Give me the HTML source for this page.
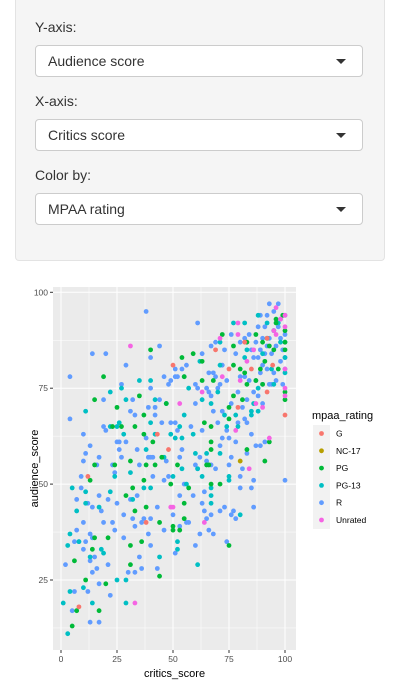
<!DOCTYPE html>
<html><head><meta charset="utf-8">
<style>
body{margin:0;width:400px;height:682px;background:#fff;font-family:"Liberation Sans",Arial,sans-serif;color:#333;position:relative;overflow:hidden}
.panel{position:absolute;left:15px;top:0;width:368px;height:260px;background:#f5f5f5;border:1px solid #e3e3e3;border-top:none;border-radius:0 0 4px 4px}
.lbl{position:absolute;left:35px;font-size:14px;color:#333}
.sel{position:absolute;left:35px;width:328px;height:32px;background:#fff;border:1px solid #ccc;border-radius:4px;box-sizing:border-box;font-size:14px;line-height:30px;padding-left:12px;color:#333}
.sel .car{position:absolute;right:16px;top:13px;width:0;height:0;border-left:5px solid transparent;border-right:5px solid transparent;border-top:5px solid #333}
svg{position:absolute;left:0;top:0}
</style></head><body>
<div class="panel"></div>
<div class="lbl" style="top:19px">Y-axis:</div>
<div class="sel" style="top:45px">Audience score<span class="car"></span></div>
<div class="lbl" style="top:93px">X-axis:</div>
<div class="sel" style="top:119px">Critics score<span class="car"></span></div>
<div class="lbl" style="top:167px">Color by:</div>
<div class="sel" style="top:193px">MPAA rating<span class="car"></span></div>

<svg id="chart" width="400" height="682"></svg>
<script>
const categories=["G","NC-17","PG","PG-13","R","Unrated"];
const colors=["#F8766D","#B79F00","#00BA38","#00BFC4","#619CFF","#F564E3"];
const xTicks=[0,25,50,75,100];
const yTicks=[25,50,75,100];
const seriesG=[[94.5,81],[100,68],[43,63],[48,59],[50,81],[12,52],[38,40],[8,18],[69,85],[75,80],[79,70],[92,74],[85,80],[82,87],[92,88]];
const seriesNC17=[[80,56]];
const seriesUnrated=[[31,86],[53,71],[49,44],[50,44],[33,19],[64,40],[84,54],[90,70],[93,62],[78,64],[79,92],[86,85],[83,82],[80,77],[96,89],[98,93],[100,94],[100,91],[100,80],[100,75],[100,73],[95,90],[87,71],[72,78],[71,88],[79,89],[96,96],[63,74]];
const seriesPG=[[19,78],[15,72],[25,70],[27,65],[23,65],[24,55],[13,51],[15,55],[14,33],[11,25],[7,17],[5,13],[17,17],[20,24],[21,36],[15,36],[6,30],[29,47],[31,56],[31,34],[31,29],[33,65],[35,73],[37,68],[37,63],[37,51],[38,44],[38,55],[36,35],[33,43],[32,49],[40,85],[41,61],[42,55],[44,40],[44,26],[47,71],[45,57],[49,50],[50,39],[50,38],[53,38],[52,55],[54,83],[55,78],[55,45],[55,41],[57,49],[59,84],[63,82],[63,77],[64,66],[65,55],[68,77],[67,65],[67,61],[67,59],[67,50],[66,55],[71,50],[72,89],[75,70],[75,67],[75,34],[77,86],[77,81],[77,73],[80,80],[82,79],[83,76],[81,72],[83,59],[87,89],[89,80],[91,82],[92,88],[93,86],[95,85],[97,80],[96,93],[99,94],[100,90],[100,87],[100,85],[100,74],[100,72],[91,56],[93,61],[87,77],[90,76],[96,92],[83,87],[90,87]];
const seriesPG13=[[11,69],[3,34],[1,19],[3,11],[4,22],[4,37],[5,49],[7,43],[8,35],[10,23],[11,45],[11,48],[14,19],[13,31],[17,44],[18,33],[19,32],[22,48],[22,65],[22,74],[24,52],[25,25],[25,65],[26,66],[27,75],[28,63],[29,19],[29,25],[29,72],[31,53],[32,46],[35,77],[37,49],[38,59],[40,77],[40,66],[40,49],[42,72],[42,63],[44,31],[46,57],[47,71],[49,63],[50,52],[51,62],[52,35],[52,33],[53,65],[54,62],[54,54],[55,68],[56,50],[57,75],[59,63],[60,58],[61,29],[61,54],[63,52],[62,82],[63,72],[65,58],[67,49],[67,47],[67,45],[67,71],[70,74],[71,58],[71,81],[71,87],[73,68],[74,65],[75,52],[75,51],[77,92],[78,68],[79,65],[80,42],[82,83],[82,92],[85,69],[85,68],[88,94],[88,69],[90,84],[92,92],[94,80],[95,90],[97,92],[98,87],[100,87],[100,83],[100,79],[86,71],[95,76],[88,75],[83,85]];
const seriesR=[[4,78],[4,67],[2,29],[5,17],[6,22],[6,35],[7,46],[7,38],[8,35],[9,52],[9,49],[10,40],[10,33],[10,63],[10,56],[11,58],[11,35],[12,22],[12,45],[13,60],[13,37],[13,30],[13,14],[14,84],[14,36],[14,44],[14,27],[15,31],[16,28],[16,55],[17,57],[17,47],[17,14],[17,24],[18,43],[19,72],[19,65],[19,40],[20,84],[20,64],[21,29],[21,46],[22,21],[23,55],[23,40],[24,53],[24,38],[25,45],[25,61],[26,59],[26,61],[27,76],[27,57],[28,42],[28,36],[29,81],[29,61],[30,27],[31,46],[31,69],[32,41],[32,72],[33,27],[33,39],[33,68],[34,59],[34,47],[35,55],[35,31],[36,40],[36,28],[37,41],[38,95],[38,62],[39,70],[39,57],[39,37],[40,34],[40,83],[40,75],[40,57],[40,41],[41,57],[41,52],[42,68],[42,70],[43,44],[43,28],[44,86],[44,72],[45,66],[46,78],[46,51],[46,38],[47,56],[47,71],[48,76],[48,52],[49,66],[49,77],[50,42],[51,78],[51,66],[51,32],[51,80],[52,78],[52,64],[53,57],[53,47],[53,39],[54,59],[54,80],[55,78],[55,50],[56,81],[56,40],[57,40],[58,65],[59,47],[60,76],[60,71],[60,55],[60,34],[61,92],[61,54],[61,75],[62,57],[62,37],[63,84],[63,64],[63,45],[64,48],[64,43],[65,41],[65,56],[65,75],[66,79],[66,38],[66,74],[67,86],[67,73],[67,42],[67,55],[68,79],[68,69],[68,37],[69,87],[69,78],[69,54],[70,75],[70,66],[71,43],[71,76],[71,60],[72,81],[72,62],[72,69],[73,85],[73,44],[74,77],[74,64],[74,35],[75,62],[75,55],[76,89],[76,71],[76,57],[76,42],[77,43],[78,84],[78,41],[78,61],[79,74],[79,66],[80,49],[80,52],[80,78],[80,87],[81,54],[81,70],[82,88],[82,67],[83,72],[83,66],[83,58],[84,89],[84,77],[85,63],[85,49],[86,44],[86,51],[86,83],[87,77],[87,60],[88,91],[88,83],[88,73],[89,60],[89,79],[89,94],[90,88],[90,81],[90,71],[91,61],[91,91],[92,80],[92,94],[93,97],[93,76],[94,84],[94,76],[95,95],[95,90],[95,79],[96,86],[96,77],[97,97],[97,91],[98,88],[98,82],[98,93],[99,85],[99,76],[100,51],[100,83],[100,89],[100,94],[100,80],[85,85],[87,87],[89,85],[91,84],[93,88],[92,86],[90,76],[82,78],[86,74]];

const NS="http://www.w3.org/2000/svg";
const svg=document.getElementById('chart');
const P={l:53,r:296,t:287,b:650};
const xS=v=>61+v*2.24;
const yS=v=>292.3+(100-v)*3.836;
function mk(tag,attrs,parent){const e=document.createElementNS(NS,tag);for(const k in attrs)e.setAttribute(k,attrs[k]);(parent||svg).appendChild(e);return e;}
const bg=mk('rect',{x:P.l,y:P.t,width:P.r-P.l,height:P.b-P.t,fill:'#EBEBEB'});


// minor grid
for(let i=0;i<xTicks.length-1;i++){const m=(xTicks[i]+xTicks[i+1])/2;mk('line',{x1:xS(m),x2:xS(m),y1:P.t,y2:P.b,stroke:'#fff','stroke-width':0.5});}
for(let i=0;i<yTicks.length-1;i++){const m=(yTicks[i]+yTicks[i+1])/2;mk('line',{x1:P.l,x2:P.r,y1:yS(m),y2:yS(m),stroke:'#fff','stroke-width':0.5});}
mk('line',{x1:P.l,x2:P.r,y1:yS(12.5),y2:yS(12.5),stroke:'#fff','stroke-width':0.5});
xTicks.forEach(t=>{
  mk('line',{x1:xS(t),x2:xS(t),y1:P.t,y2:P.b,stroke:'#fff','stroke-width':1});
  mk('line',{x1:xS(t),x2:xS(t),y1:P.b,y2:P.b+3,stroke:'#333','stroke-width':1});
  const tx=mk('text',{x:xS(t),y:P.b+12,'font-size':8.5,fill:'#4D4D4D','text-anchor':'middle','font-family':'Liberation Sans, sans-serif'});
  tx.textContent=t;
  
  
});
yTicks.forEach(t=>{
  mk('line',{x1:P.l,x2:P.r,y1:yS(t),y2:yS(t),stroke:'#fff','stroke-width':1});
  mk('line',{x1:P.l-3,x2:P.l,y1:yS(t),y2:yS(t),stroke:'#333','stroke-width':1});
  const tx=mk('text',{x:P.l-5,y:yS(t)+3,'font-size':8.5,fill:'#4D4D4D','text-anchor':'end','font-family':'Liberation Sans, sans-serif'});
  tx.textContent=t;
  
  
});
const order=[[seriesR,4],[seriesPG13,3],[seriesPG,2],[seriesG,0],[seriesNC17,1],[seriesUnrated,5]];
order.forEach(([s,ci])=>{
  s.forEach(p=>{
    const c=mk('circle',{cx:xS(p[0]),cy:yS(p[1]),r:2.4,fill:colors[ci]});
    
    
  });
});
const xt=mk('text',{x:(P.l+P.r)/2,y:677,'font-size':11,fill:'#000','text-anchor':'middle','font-family':'Liberation Sans, sans-serif'});
xt.textContent='critics_score';


const yt=mk('text',{x:0,y:0,'font-size':11,fill:'#000','text-anchor':'middle','font-family':'Liberation Sans, sans-serif',transform:'translate(38,'+((P.t+P.b)/2)+') rotate(-90)'});
yt.textContent='audience_score';


// legend
const lt=mk('text',{x:312,y:419,'font-size':11,fill:'#000','font-family':'Liberation Sans, sans-serif'});
lt.textContent='mpaa_rating';


mk('rect',{x:313,y:425,width:17,height:104,fill:'#F2F2F2'});
categories.forEach((c,i)=>{
  const y=433.5+i*17.3;
  const g=mk('g',{});
  
  
  mk('circle',{cx:321.5,cy:y,r:2.4,fill:colors[i]},g);
  const t=mk('text',{x:336,y:y+3,'font-size':8.5,fill:'#000','font-family':'Liberation Sans, sans-serif'},g);
  t.textContent=c;
});
</script>
</body></html>
